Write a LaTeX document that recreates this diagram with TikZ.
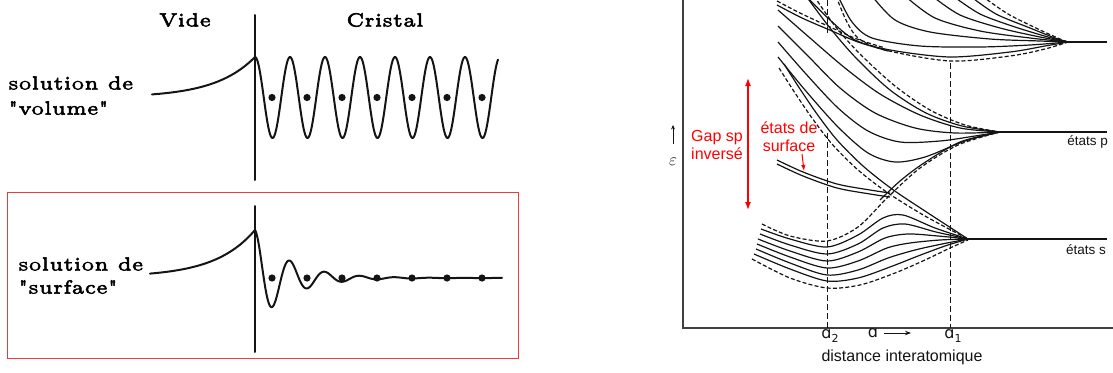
\documentclass[tikz,border=0pt]{standalone}
\usepackage{fontspec}
\usepackage{graphicx}
\newfontfamily\arial{Liberation Sans}
\newfontfamily\dejavu{DejaVu Sans}
\usetikzlibrary{arrows.meta}
\definecolor{frameRed}{RGB}{235,60,60}
\definecolor{ink}{RGB}{20,20,20}
\newcommand\cmbig[1]{\scalebox{3.8}{\fontsize{5}{6}\selectfont\special{pdf:literal direct 2 Tr 0.14 w}#1\special{pdf:literal direct 0 Tr}}}
\begin{document}
\begin{tikzpicture}[x=1pt,y=-1pt,
  wave/.style={line width=2pt, ink, line join=round, line cap=round},
  bandl/.style={line width=1.2pt, ink},
  bandd/.style={line width=1.2pt, ink, dash pattern=on 4pt off 2.2pt},
  vdash/.style={line width=0.9pt, ink, dash pattern=on 6pt off 3pt},
  axisline/.style={line width=1.4pt, black!75},
  blob/.style={line width=2.8pt, ink},
  cmtxt/.style={inner sep=0pt},
  redtxt/.style={text=red, font=\arial\fontsize{16}{18}\selectfont, align=center, inner sep=0pt},
  labtxt/.style={font=\arial\fontsize{13.5}{15}\selectfont, inner sep=0pt, text=ink},
  axlab/.style={inner sep=0pt, font=\dejavu\fontsize{16}{16}\selectfont, text=ink},
  redarrow/.style={red, line width=1.3pt},
]
\useasboundingbox (0,0) rectangle (1113,372);

% ---------------- left panel: texts
\node[cmtxt] (vide) at (185,20) {\cmbig{Vide}};
\node[cmtxt] (cristal) at (385,20) {\cmbig{Cristal}};
\node[cmtxt, anchor=west] (solA) at (8,83) {\cmbig{solution de}};
\node[cmtxt, anchor=west] (volA) at (8,108) {\cmbig{\textquotedbl volume\textquotedbl}};
\node[cmtxt, anchor=west] (solB) at (18,264) {\cmbig{solution de}};
\node[cmtxt, anchor=west] (surfB) at (18,287) {\cmbig{\textquotedbl surface\textquotedbl}};

% ---------------- left panel: top (volume)
\coordinate (vtA) at (255,15);
\coordinate (vtB) at (255,180);
\draw[wave] (vtA) -- (vtB);
\draw[wave] plot[domain=152:255, samples=60] (\x,{97.5-40.5*exp((\x-255)/40)});
\draw[wave] plot[domain=255:498, samples=400] (\x,{97.5-40.5*cos(10.2857*(\x-255))});
\foreach \k in {0,...,6} \fill[ink] ({272+35*\k},97.5) circle[radius=3.6pt];

% ---------------- left panel: bottom (surface)
\draw[frameRed, line width=1pt] (7,192) rectangle (518,358);
\coordinate (vbA) at (255,206);
\coordinate (vbB) at (255,352);
\draw[wave] (vbA) -- (vbB);
\draw[wave] plot[domain=150:255, samples=60] (\x,{277-47*exp((\x-255)/40)});
\draw[wave] plot[domain=255:502, samples=400] (\x,{278-48*exp(-0.0292*(\x-255))*cos(10.2857*(\x-255))});
\foreach \k in {0,...,6} \fill[ink] ({272+35*\k},278) circle[radius=3.6pt];

% ---------------- right panel: axes
\coordinate (axY) at (683,0);
\coordinate (axO) at (683,328);
\coordinate (axX) at (1113,328);
\draw[axisline] (axY) -- (axO) -- (axX);

% epsilon
\coordinate (epsA) at (673,144);
\coordinate (epsB) at (673,125);
\draw[line width=0.9pt, ink, -{Stealth[length=4.5pt,width=4pt]}] (epsA) -- (epsB);
\node[inner sep=0pt, text=ink, font=\fontsize{17}{17}\selectfont] (eps) at (673,162) {$\varepsilon$};

% vertical dashed a2, a1
\coordinate (aTwoTop) at (827,0);
\coordinate (aTwoMid) at (827,35);
\coordinate (aTwoLow) at (827,133);
\coordinate (aTwoBot) at (827,328);
\coordinate (aOneTop) at (950,63);
\coordinate (aOneBot) at (950,328);
\draw[vdash] (aTwoTop) -- (aTwoMid);
\draw[vdash] (aTwoLow) -- (aTwoBot);
\draw[vdash] (aOneTop) -- (aOneBot);

% axis labels
\node[axlab] (labTwo) at (830,336) {ɑ\raisebox{-3.5pt}{\fontsize{11}{11}\selectfont 2}};
\node[axlab] (labOne) at (953,336) {ɑ\raisebox{-3.5pt}{\fontsize{11}{11}\selectfont 1}};
\node[axlab] (labA) at (873,333) {ɑ};
\coordinate (arrA) at (884,333);
\coordinate (arrB) at (911,333);
\draw[line width=0.9pt, ink, -{Stealth[length=6pt,width=4.5pt]}] (arrA) -- (arrB);
\node[inner sep=0pt, font=\arial\fontsize{16}{18}\selectfont, text=ink] (dist) at (902,357) {distance interatomique};

% ---------------- right panel: bands
\begin{scope}
\clip (684,0) rectangle (1113,327);
% top group
\draw[bandd] plot[smooth] coordinates {(836,-4) (846,20) (858,38) (885,50) (950,61) (1010,56) (1045,49) (1068,42)};
\draw[bandl] plot[smooth] coordinates {(806,-4) (830,20) (855,40) (890,50) (950,57) (1010,52) (1045,46) (1068,42)};
\draw[bandd] plot[smooth] coordinates {(777,1) (800,13) (830,27) (857,39) (885,48)};
\draw[bandl] plot[smooth] coordinates {(777,5) (802,18) (832,31) (858,42) (888,51)};
\draw[bandl] plot[smooth] coordinates {(838,-4) (852,22) (872,38) (920,46) (980,47) (1030,45) (1068,42)};
\draw[bandl] plot[smooth] coordinates {(872,-4) (895,20) (930,32) (990,39) (1040,41) (1068,42)};
\draw[bandl] plot[smooth] coordinates {(905,-4) (935,18) (980,31) (1030,38) (1068,42)};
\draw[bandl] plot[smooth] coordinates {(932,-4) (960,15) (1000,28) (1040,37) (1068,42)};
\draw[bandl] plot[smooth] coordinates {(953,-4) (980,14) (1015,27) (1048,37) (1068,42)};
\draw[bandl] plot[smooth] coordinates {(970,-4) (996,14) (1030,28) (1055,38) (1068,42)};
\draw[bandd] plot[smooth] coordinates {(982,-4) (1008,14) (1038,29) (1060,39) (1068,42)};
\coordinate (ctA) at (1068,42);
\coordinate (ctB) at (1107,42);
\draw[bandl] (ctA) -- (ctB);
\draw[blob] (1058,42) -- (1082,42);

% p group
\draw[bandd] plot[smooth] coordinates {(814,-4) (835,26) (860,54) (895,86) (930,110) (965,125) (1000,132)};
\draw[bandl] plot[smooth] coordinates {(806,-4) (830,28) (856,58) (890,90) (926,113) (962,126) (1000,132)};
\draw[bandl] plot[smooth] coordinates {(778,10) (810,38) (845,68) (880,94) (920,115) (960,128) (1000,132)};
\draw[bandl] plot[smooth] coordinates {(778,26) (808,56) (840,88) (875,113) (915,128) (955,133) (1000,132)};
\draw[bandl] plot[smooth] coordinates {(778,42) (806,74) (838,108) (868,131) (900,142) (940,141) (975,136) (1000,132)};
\draw[bandl] plot[smooth] coordinates {(778,57) (805,90) (838,127) (868,153) (895,162) (925,157) (965,141) (1000,132)};
\coordinate (cpA) at (1000,132);
\coordinate (cpB) at (1107,132);
\draw[bandl] (cpA) -- (cpB);
\draw[blob] (990,132) -- (1018,132);

% crossing pairs
\draw[bandd] plot[smooth] coordinates {(779,68) (795,93) (812,118) (832,144) (858,170) (888,193) (925,216) (968,239)};
\draw[bandl] plot[smooth] coordinates {(784,64) (800,89) (817,114) (837,140) (863,166) (892,189) (928,213) (968,239)};
\draw[bandd] plot[smooth] coordinates {(762,224) (790,236) (827,241) (858,227) (888,197) (920,168) (958,145) (1000,132)};
\draw[bandl] plot[smooth] coordinates {(880,200) (900,181) (924,163) (960,142) (1000,132)};

% surface states
\draw[bandl] plot[smooth] coordinates {(777,160) (803,172) (837,184) (870,190) (890,193)};
\draw[bandl] plot[smooth] coordinates {(777,164) (803,176) (837,188) (870,194) (890,197)};

% s group
\draw[bandl] plot[smooth] coordinates {(761,229) (790,239) (827,247) (858,235) (883,218) (903,215) (935,228) (968,239)};
\draw[bandl] plot[smooth] coordinates {(760,234) (790,245) (827,254) (858,244) (883,228) (905,224) (936,232) (968,239)};
\draw[bandl] plot[smooth] coordinates {(758,239) (790,251) (827,261) (858,252) (885,238) (908,234) (938,236) (968,239)};
\draw[bandl] plot[smooth] coordinates {(757,244) (790,257) (827,268) (858,261) (887,248) (910,243) (940,240) (968,239)};
\draw[bandl] plot[smooth] coordinates {(756,249) (790,263) (827,275) (858,270) (888,258) (915,250) (942,244) (968,239)};
\draw[bandl] plot[smooth] coordinates {(754,254) (790,269) (827,281) (858,278) (890,267) (918,256) (945,246) (968,239)};
\draw[bandd] plot[smooth] coordinates {(752,259) (790,278) (827,288) (860,285) (895,273) (925,260) (950,248) (968,240)};
\coordinate (csA) at (968,239);
\coordinate (csB) at (1107,239);
\draw[bandl] (csA) -- (csB);
\draw[blob] (958,239) -- (984,239);
\end{scope}

% ---------------- right panel: red annotations
\node[redtxt] (gap) at (717,145) {Gap sp\\inversé};
\node[redtxt] (etsurf) at (789,137) {états de\\surface};
\coordinate (gapTop) at (748,78);
\coordinate (gapBot) at (748,210);
\draw[redarrow, {Latex[length=8pt,width=6pt]}-{Latex[length=8pt,width=6pt]}] (gapTop) -- (gapBot);
\coordinate (ssA) at (802,154);
\coordinate (ssB) at (804,171);
\draw[red, line width=1pt, -{Latex[length=6pt,width=4.5pt]}] (ssA) -- (ssB);

\node[labtxt, anchor=east] (etatp) at (1108,142) {états p};
\node[labtxt, anchor=east] (etats) at (1106,250) {états s};
\end{tikzpicture}
\end{document}
